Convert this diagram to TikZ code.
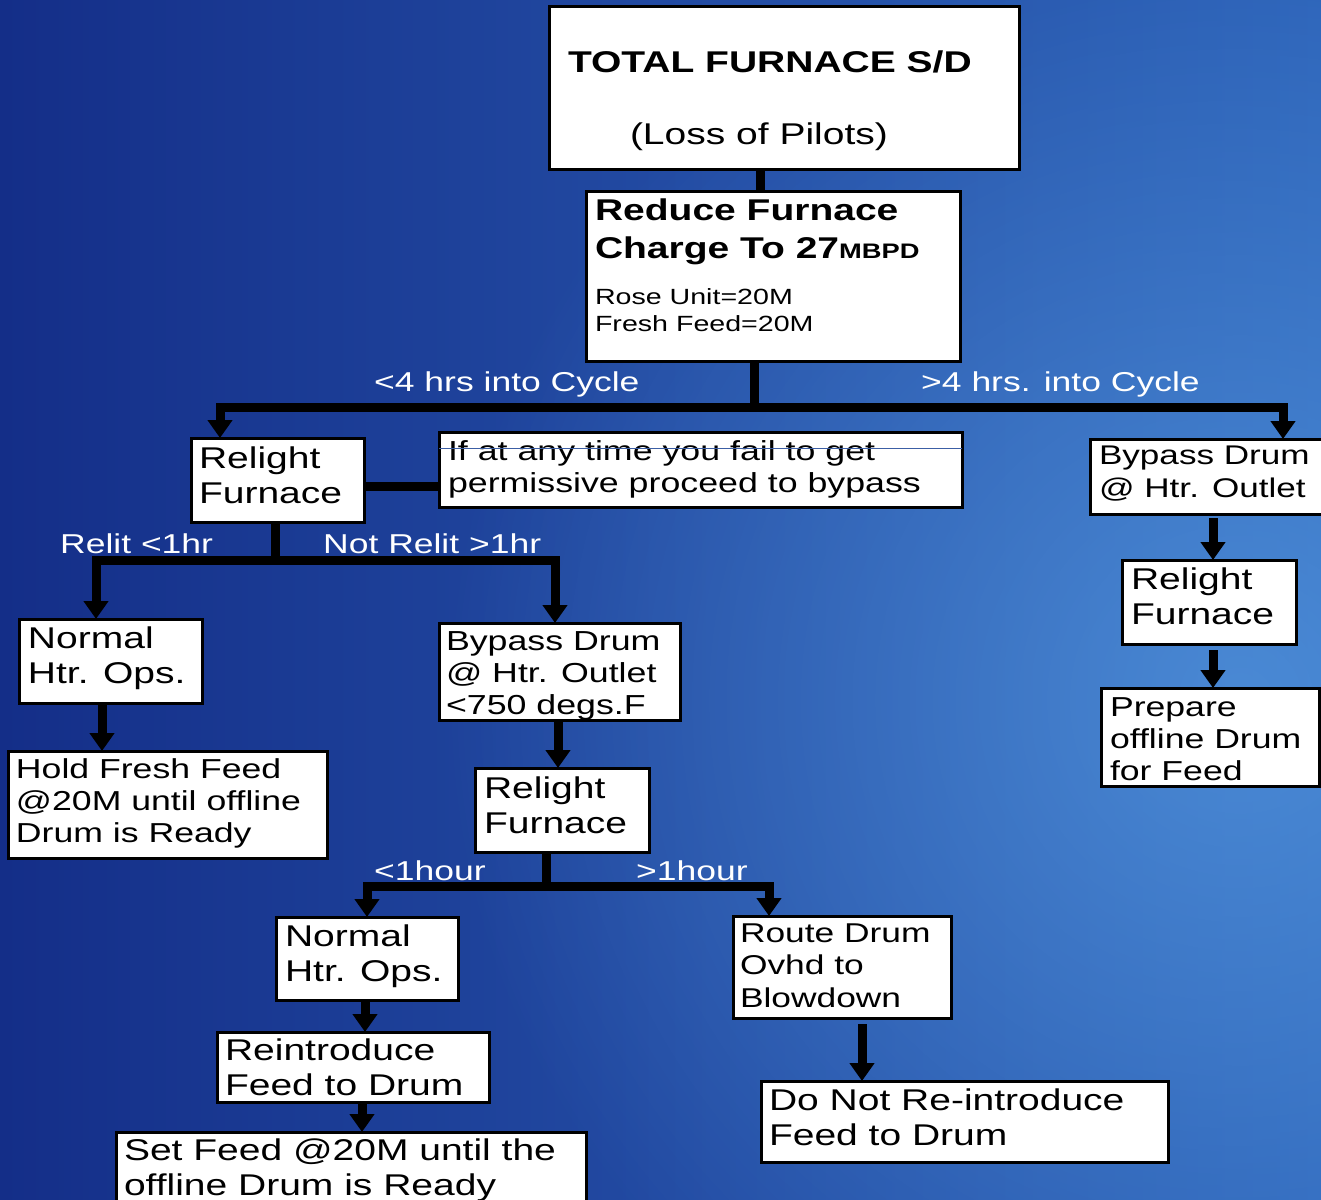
\documentclass[tikz,border=0pt]{standalone}
\usepackage{fontspec}
\setmainfont{Liberation Sans}[FakeStretch=1.3]
\usetikzlibrary{arrows.meta,fadings}
\definecolor{bgA}{RGB}{13,32,112}
\definecolor{bgB}{RGB}{20,46,136}
\definecolor{bgC}{RGB}{34,74,162}
\definecolor{bgD}{RGB}{44,98,184}
\definecolor{bgE}{RGB}{50,112,196}
\definecolor{glowc}{RGB}{100,172,238}
\definecolor{thinblue}{RGB}{60,95,165}
\pgfdeclarehorizontalshading{bgshade}{100bp}{color(0bp)=(bgA); color(25bp)=(bgB); color(50bp)=(bgC); color(75bp)=(bgD); color(100bp)=(bgE)}
\tikzfading[name=glowfade, inner color=transparent!45, outer color=transparent!100]
\newcommand\fs[2]{\fontsize{#1}{#2}\selectfont}
\newcommand\bxt[5]{\parbox[t][#2][t]{#1}{\raggedright\leftskip=#3\relax\rightskip=-300pt plus 1fil\relax\vspace*{#4}#5}}
\tikzset{
  box/.style={draw=black, line width=3pt, fill=white, anchor=north west, inner sep=0pt, outer sep=0pt},
  conn/.style={draw=black, line width=9pt, line join=miter},
  arr/.style={conn, -{Triangle[width=24pt,length=18pt]}},
  lbl/.style={anchor=base west, inner sep=0pt, text=white, font=\fs{27.3}{32}}
}
\begin{document}
\begin{tikzpicture}[x=1pt,y=-1pt]
\useasboundingbox (0,0) rectangle (1321,1199);
\clip (0,0) rectangle (1321,1199);
\shade[shading=bgshade] (0,0) rectangle (1321,1199);
\fill[glowc, path fading=glowfade] (1240,700) circle (800);

% boxes
\node[box] (A) at (549,7) {\bxt{470pt}{162pt}{19pt}{41.5pt}{\fs{30}{35}\strut\textbf{TOTAL FURNACE S/D}\\[37pt]\hspace*{62pt}(Loss of Pilots)}};
\node[box] (B) at (586,191) {\bxt{374pt}{170pt}{9pt}{2.4pt}{{\bfseries\fs{30}{38}\strut Reduce Furnace\\Charge To 27{\fs{21}{38}MBPD}\par}\vspace{19pt}{\fs{22}{27}Rose Unit=20M\\Fresh Feed=20M\par}}};
\node[box] (C) at (191,438) {\bxt{173pt}{84pt}{8pt}{5.5pt}{\fs{30}{35}\strut Relight\\Furnace}};
\node[box] (E) at (439,432) {\bxt{523pt}{75pt}{9pt}{5.6pt}{\fs{27.5}{32}\strut If at any time you fail to get\\permissive proceed to bypass}};
\node[box] (D) at (1090,439) {\bxt{240pt}{75pt}{9pt}{1.9pt}{\fs{27}{33}\strut Bypass Drum\\@ Htr. Outlet}};
\node[box] (F) at (1122,560) {\bxt{174pt}{84pt}{9pt}{4.5pt}{\fs{30}{35}\strut Relight\\Furnace}};
\node[box] (G) at (1101,688) {\bxt{218pt}{98pt}{9pt}{5.6pt}{\fs{27.4}{32}\strut Prepare\\offline Drum\\for Feed}};
\node[box] (H) at (19,619) {\bxt{183pt}{84pt}{9pt}{4.5pt}{\fs{30}{35}\strut Normal\\Htr. Ops.}};
\node[box] (I) at (8,751) {\bxt{319pt}{107pt}{8pt}{4.6pt}{\fs{27.4}{32}\strut Hold Fresh Feed\\@20M until offline\\Drum is Ready}};
\node[box] (J) at (439,623) {\bxt{241pt}{97pt}{7pt}{4.6pt}{\fs{27.5}{32}\strut Bypass Drum\\@ Htr. Outlet\\<750 degs.F}};
\node[box] (K) at (475,768) {\bxt{174pt}{84pt}{9pt}{5.5pt}{\fs{30}{35}\strut Relight\\Furnace}};
\node[box] (M) at (276,917) {\bxt{182pt}{83pt}{9pt}{4.5pt}{\fs{30}{35}\strut Normal\\Htr. Ops.}};
\node[box] (N) at (217,1032) {\bxt{272pt}{70pt}{8pt}{3.5pt}{\fs{30}{35}\strut Reintroduce\\Feed to Drum}};
\node[box] (O) at (116,1132) {\bxt{470pt}{90pt}{8pt}{3.5pt}{\fs{30}{35}\strut Set Feed @20M until the\\offline Drum is Ready}};
\node[box] (P) at (733,916) {\bxt{218pt}{102pt}{7pt}{3.3pt}{\fs{27.2}{32.5}\strut Route Drum\\Ovhd to\\Blowdown}};
\node[box] (Q) at (761,1081) {\bxt{407pt}{81pt}{8pt}{4.5pt}{\fs{30}{35}\strut Do Not Re-introduce\\Feed to Drum}};

% thin line across the note box
\draw[thinblue, line width=1pt] ([yshift=-16pt]E.north west) -- ([yshift=-16pt]E.north east);

% labels
\node[lbl] (l1) at (374,391) {<4 hrs into Cycle};
\node[lbl] (l2) at (921,391) {>4 hrs. into Cycle};
\node[lbl] (l3) at (60,553) {Relit <1hr};
\node[lbl] (l4) at (323,553) {Not Relit >1hr};
\node[lbl] (l5) at (374,880) {<1hour};
\node[lbl] (l6) at (636,880) {>1hour};

% junctions
\coordinate (jTop) at (754,407);
\coordinate (jC) at (275,560);
\coordinate (jK) at (546,886);

% connectors
\draw[conn] ([xshift=211pt]A.south west) -- ([xshift=174pt]B.north west);
\draw[conn] ([xshift=168pt]B.south west) -- (jTop);
\draw[arr] (jTop) -| ([xshift=29pt]C.north west);
\draw[arr] (jTop) -| ([xshift=193pt]D.north west);
\draw[conn] ([yshift=-48pt]C.north east) -- ([yshift=-54pt]E.north west);
\draw[conn] ([xshift=84pt]C.south west) -- (jC);
\draw[arr] (jC) -| ([xshift=77pt]H.north west);
\draw[arr] (jC) -| ([xshift=116pt]J.north west);
\draw[arr] ([xshift=83pt]H.south west) -- ([xshift=94pt]I.north west);
\draw[arr] ([xshift=119pt]J.south west) -- ([xshift=83pt]K.north west);
\draw[conn] ([xshift=71pt]K.south west) -- (jK);
\draw[arr] (jK) -| ([xshift=91pt]M.north west);
\draw[arr] (jK) -| ([xshift=36pt]P.north west);
\draw[arr] ([xshift=89pt]M.south west) -- ([xshift=148pt]N.north west);
\draw[arr] ([xshift=145pt]N.south west) -- ([xshift=246pt]O.north west);
\draw[arr] ([xshift=129pt,yshift=-6pt]P.south west) -- ([xshift=101pt]Q.north west);
\draw[arr] ([xshift=123pt,yshift=-4pt]D.south west) -- ([xshift=91pt]F.north west);
\draw[arr] ([xshift=91pt,yshift=-6pt]F.south west) -- ([xshift=112pt]G.north west);
\end{tikzpicture}
\end{document}
